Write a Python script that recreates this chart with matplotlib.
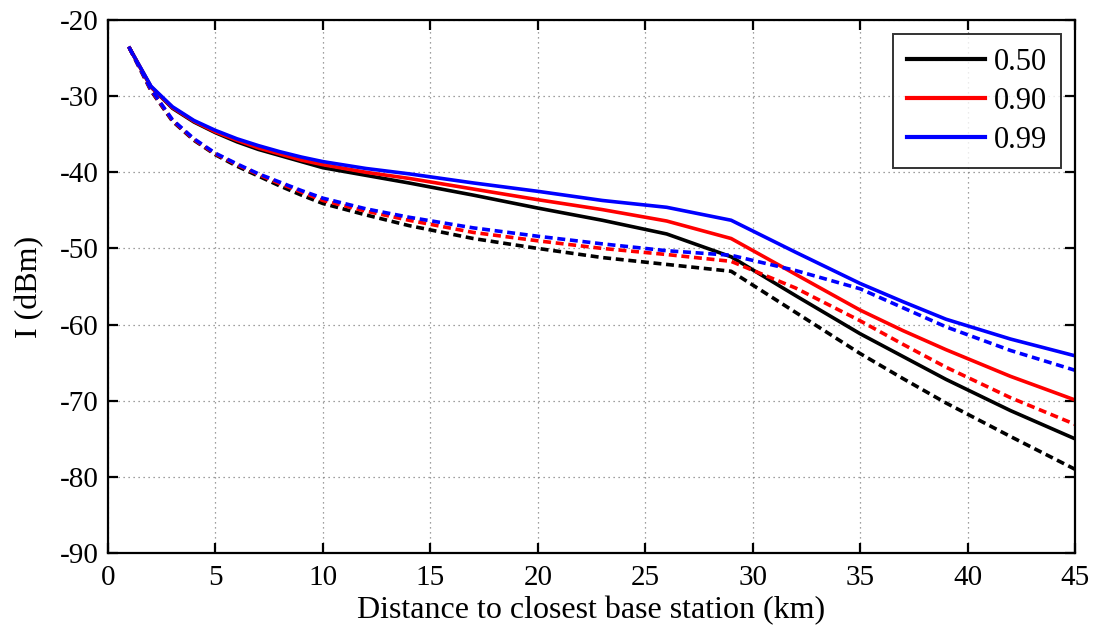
import matplotlib
matplotlib.use("Agg")
import matplotlib.pyplot as plt

# Distance to the closest base station (km)
distance_km = [1, 2, 3, 4, 5, 6, 7, 8, 9, 10, 12, 14, 17, 20, 23, 26, 29,
               32, 35, 37, 39, 42, 45]

# Interference level I (dBm), solid curves
solid_050 = [-23.7, -28.8, -31.6, -33.4, -34.8, -36.0, -37.0, -37.8, -38.6, -39.4,
             -40.4, -41.4, -43.0, -44.7, -46.3, -48.1, -51.1,
             -56.2, -61.2, -64.2, -67.2, -71.3, -75.0]
solid_090 = [-23.7, -28.8, -31.5, -33.3, -34.7, -35.8, -36.8, -37.6, -38.4, -39.0,
             -40.0, -40.8, -42.2, -43.6, -44.9, -46.4, -48.7,
             -53.4, -58.1, -60.8, -63.3, -66.8, -69.9]
solid_099 = [-23.7, -28.7, -31.4, -33.2, -34.5, -35.6, -36.5, -37.3, -38.0, -38.6,
             -39.5, -40.2, -41.4, -42.5, -43.7, -44.6, -46.3,
             -50.5, -54.6, -57.0, -59.3, -61.9, -64.1]

# Interference level I (dBm), dashed curves
dashed_050 = [-23.7, -29.3, -33.3, -35.8, -37.7, -39.2, -40.5, -41.8, -43.0, -44.1,
              -45.6, -47.0, -48.7, -50.0, -51.2, -52.1, -53.0,
              -58.4, -63.8, -67.1, -70.3, -74.7, -79.0]
dashed_090 = [-23.7, -29.2, -33.2, -35.7, -37.6, -39.0, -40.3, -41.5, -42.6, -43.7,
              -45.1, -46.3, -47.9, -49.0, -50.0, -50.8, -51.7,
              -55.2, -59.5, -62.6, -65.6, -69.6, -73.1]
dashed_099 = [-23.7, -29.1, -33.1, -35.6, -37.5, -38.9, -40.2, -41.3, -42.4, -43.4,
              -44.8, -45.9, -47.3, -48.4, -49.4, -50.3, -50.9,
              -52.9, -55.3, -57.8, -60.3, -63.4, -66.0]

legend_labels = ["0.50", "0.90", "0.99"]
colors = ["black", "red", "blue"]

x_ticks = [0, 5, 10, 15, 20, 25, 30, 35, 40, 45]
y_ticks = [-90, -80, -70, -60, -50, -40, -30, -20]

plt.rcParams["font.family"] = ["Liberation Serif", "DejaVu Serif"]

fig = plt.figure(figsize=(10.98, 6.39), dpi=100)
ax = fig.add_axes([0.0984, 0.1346, 0.8806, 0.8341])

lw = 2.6
for ys, c, lab in zip([solid_050, solid_090, solid_099], colors, legend_labels):
    ax.plot(distance_km, ys, color=c, lw=lw, label=lab)
for ys, c in zip([dashed_050, dashed_090, dashed_099], colors):
    ax.plot(distance_km, ys, color=c, lw=lw, dashes=(2.2, 1.3))

ax.set_xlim(0, 45)
ax.set_ylim(-90, -20)
ax.set_xticks(x_ticks)
ax.set_yticks(y_ticks)
ax.set_xticklabels([str(t) for t in x_ticks])
ax.set_yticklabels([str(t) for t in y_ticks])

ax.grid(True, color="#808080", linestyle=(0, (1, 3)), linewidth=0.9)
ax.tick_params(direction="in", length=7, width=1.6, top=True, right=True,
               labelsize=21, pad=7)
ax.tick_params(axis="x", pad=9)
for s in ax.spines.values():
    s.set_linewidth(1.6)

ax.set_xlabel("Distance to closest base station (km)", fontsize=23, labelpad=3)
ax.set_ylabel("I (dBm)", fontsize=23, labelpad=11)

leg = ax.legend(loc="upper right", fontsize=22, frameon=True, fancybox=False,
                edgecolor="black", handlelength=2.55, borderpad=0.45,
                labelspacing=0.33, handletextpad=0.3, borderaxespad=0.45)
leg.get_frame().set_linewidth(1.4)
for h in leg.get_lines():
    h.set_linewidth(3.0)

fig.savefig("out.png", dpi=100)
